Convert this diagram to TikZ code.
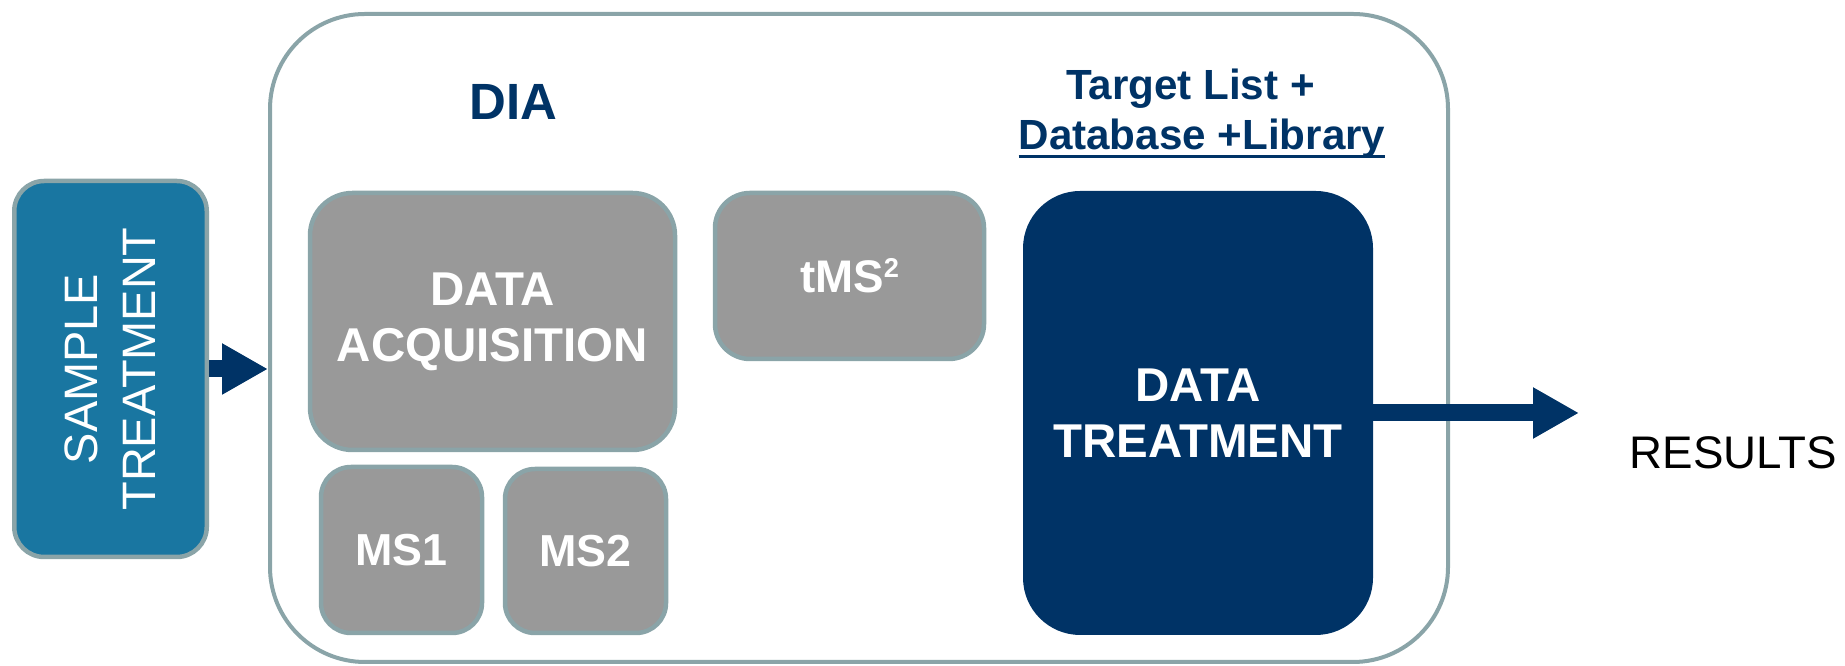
\documentclass[tikz,border=0pt]{standalone}
\usepackage{fontspec}
\setmainfont{Liberation Sans}
\usetikzlibrary{arrows.meta,positioning}
\definecolor{navy}{RGB}{0,51,102}
\definecolor{frame}{RGB}{138,164,168}
\definecolor{stone}{RGB}{153,153,153}
\definecolor{ocean}{RGB}{25,118,161}
\tikzset{
  blk/.style={draw=frame,line width=0.09cm,rounded corners=0.6cm,fill=stone,
    text=white,align=center,inner sep=0pt,
    font=\fontsize{27}{32}\selectfont\bfseries},
  shell/.style={draw=frame,line width=0.08cm,rounded corners=1.9cm,
    minimum width=23.56cm,minimum height=12.96cm},
  head/.style={text=navy,align=center,inner sep=0pt,
    font=\fontsize{24}{28.3}\selectfont\bfseries},
  flow/.style={navy,line width=0.34cm,-{Triangle[length=0.92cm,width=0.96cm]}},
}
\newcommand{\ulbar}[1]{{\setbox0\hbox{#1}%
  \rlap{\rule[-0.2em]{\wd0}{0.07em}}\box0}}
\newcommand{\sqr}{\raisebox{0.33em}{\fontsize{15.5}{15.5}\selectfont 2}}

\begin{document}
\begin{tikzpicture}
  \useasboundingbox (0,0) rectangle (36.9,13.32);
  \node[shell] (dia) at (17.18,6.56) {};
  \node[blk,fill=ocean,rotate=90,font=\fontsize{26.7}{33}\selectfont,
    minimum width=7.52cm,minimum height=3.85cm] (sample) at (2.21,5.94)
     {SAMPLE\\TREATMENT};
  \node[head,font=\fontsize{29}{34}\selectfont\bfseries] (dialbl) at (10.27,11.29) {DIA};
  \node[head] (lib) at (24.04,11.05)
     {Target List +\hspace*{0.55em}\\\ulbar{Database +Library}};
  % acquisition side
  \node[blk,rounded corners=0.85cm,minimum width=7.3cm,minimum height=5.14cm]
     (acq) at (9.85,6.89) {DATA\\ACQUISITION};
  \node[blk,font=\fontsize{25.5}{30}\selectfont\bfseries,
    minimum width=3.22cm,minimum height=3.32cm] (ms1) at (8.03,2.32) {MS1};
  \node[blk,font=\fontsize{25.5}{30}\selectfont\bfseries,
    minimum width=3.22cm,minimum height=3.28cm] (ms2) at (11.71,2.30) {MS2};
  \node[blk,rounded corners=0.7cm,font=\fontsize{26}{30}\selectfont\bfseries,
    minimum width=5.38cm,minimum height=3.32cm] (tms) at (16.99,7.80)
     {tMS\sqr};
  % treatment side
  \node[blk,draw=navy,fill=navy,rounded corners=1.1cm,
    minimum width=6.91cm,minimum height=8.79cm] (treat) at (23.96,5.06)
     {DATA\\TREATMENT};
  \node[font=\fontsize{26}{31}\selectfont] (res) at (34.67,4.27) {RESULTS};
  \coordinate (restip) at (31.58,5.06);
  \draw[flow] (sample.south) -- (sample.south -| dia.west);
  \draw[flow] (treat.east) -- (restip);
\end{tikzpicture}
\end{document}
